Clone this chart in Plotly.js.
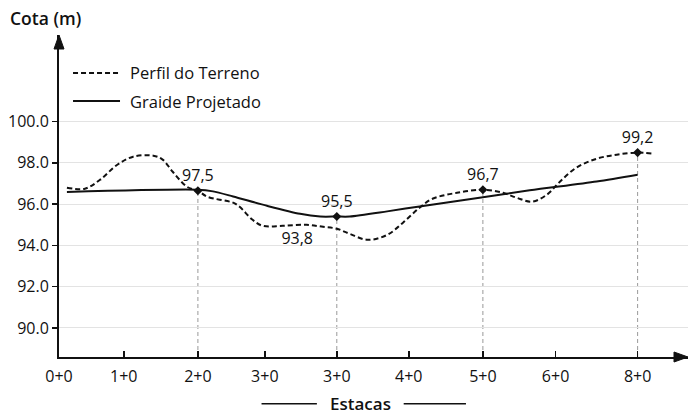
<!DOCTYPE html>
<html><head><meta charset="utf-8">
<script src="https://cdn.plot.ly/plotly-3.0.1.min.js"></script>
<style>html,body{margin:0;padding:0;background:#fff}#c{width:695px;height:417px}</style>
</head><body><div id="c"></div>
<script>
// Station tick positions and labels
const tickPos  = [0, 0.9, 1.93, 2.86, 3.86, 4.86, 5.89, 6.9, 8.04];
const tickText = ["0+0","1+0","2+0","3+0","3+0","4+0","5+0","6+0","8+0"];
const yTicks   = [90, 92, 94, 96, 98, 100];
const yTickText = ["90.0","92.0","94.0","96.0","98.0","100.0"];

// Perfil do Terreno (dashed)
const terrX = [0.11,0.36,0.57,0.81,1.03,1.31,1.44,1.58,1.78,1.93,2.06,2.42,2.51,2.69,2.83,3.11,3.44,3.67,3.86,4.04,4.29,4.56,4.78,5.01,5.19,5.53,5.89,6.17,6.36,6.57,6.78,6.96,7.19,7.47,7.75,8.04,8.24];
const terrY = [96.80,96.75,97.18,97.91,98.30,98.35,98.16,97.57,96.84,96.65,96.36,96.07,95.87,95.24,94.95,94.95,95.00,94.90,94.81,94.56,94.27,94.51,95.10,95.83,96.26,96.55,96.70,96.55,96.31,96.12,96.46,97.09,97.77,98.20,98.40,98.50,98.45];

// Graide Projetado (solid)
const gradX = [0.11,1.92,2.14,2.42,2.89,3.35,3.63,3.86,4.04,4.56,5.01,5.89,6.54,7.47,8.04];
const gradY = [96.59,96.70,96.62,96.37,95.92,95.53,95.40,95.40,95.40,95.65,95.89,96.33,96.67,97.10,97.43];

// Marked points and their labels
const markX = [1.93, 3.86, 5.89, 8.04];
const markY = [96.65, 95.40, 96.70, 98.50];
const markLabel = ["97,5","95,5","96,7","99,2"];
const extraLabelX = [3.31];
const extraLabelY = [94.27];
const extraLabel = ["93,8"];

const seriesNames = ["Perfil do Terreno", "Graide Projetado"];

const yMin = 88.59, yMax = 104.2, xMax = 8.74;
const F = "Open Sans, Noto Sans, sans-serif";
const DASH = "5px,3px";
const titleY = -0.145;

const traces = [
  {x: terrX, y: terrY, mode: "lines", name: seriesNames[0],
   line: {color: "#111", width: 2, dash: DASH, shape: "spline", smoothing: 1}},
  {x: gradX, y: gradY, mode: "lines", name: seriesNames[1],
   line: {color: "#111", width: 2, shape: "spline", smoothing: 0.8}},
  {x: markX, y: markY, mode: "markers+text", text: markLabel, textposition: "top center",
   textfont: {family: F, size: 16, color: "#111"},
   marker: {symbol: "diamond", size: 7, color: "#111"}},
  {x: extraLabelX, y: extraLabelY, mode: "text", text: extraLabel,
   textfont: {family: F, size: 16, color: "#111"}}
];

const shapes = markX.map((x, i) => ({type: "line", xref: "x", yref: "y", x0: x, x1: x, y0: yMin, y1: markY[i],
  line: {color: "#999", width: 1, dash: "4px,3px"}, layer: "below"}));
shapes.push(
  // lines beside "Estacas"
  {type: "line", xref: "paper", yref: "paper", x0: 0.322, x1: 0.41, y0: titleY, y1: titleY, line: {color: "#111", width: 1.5}},
  {type: "line", xref: "paper", yref: "paper", x0: 0.548, x1: 0.647, y0: titleY, y1: titleY, line: {color: "#111", width: 1.5}},
  // legend samples
  {type: "line", xref: "paper", yref: "paper", x0: 0.0223, x1: 0.097, y0: 0.882, y1: 0.882, line: {color: "#111", width: 2, dash: DASH}},
  {type: "line", xref: "paper", yref: "paper", x0: 0.0223, x1: 0.097, y0: 0.795, y1: 0.795, line: {color: "#111", width: 2}},
  // axis arrowheads
  {type: "path", xref: "paper", yref: "paper", xsizemode: "pixel", ysizemode: "pixel", xanchor: 0, yanchor: 1,
   path: "M0,0 L-5,-14 L5,-14 Z", fillcolor: "#111", line: {color: "#111", width: 1}},
  {type: "path", xref: "paper", yref: "paper", xsizemode: "pixel", ysizemode: "pixel", xanchor: 1, yanchor: 0,
   path: "M0,0 L-14,5 L-14,-5 Z", fillcolor: "#111", line: {color: "#111", width: 1}}
);

const layout = {
  width: 695, height: 417,
  margin: {l: 59, r: 7, t: 35, b: 60},
  paper_bgcolor: "#fff", plot_bgcolor: "#fff",
  font: {family: F, size: 16, color: "#111"},
  showlegend: false,
  xaxis: {range: [0, xMax], tickvals: tickPos, ticktext: tickText, showgrid: false, zeroline: false,
          showline: true, linecolor: "#111", linewidth: 2, ticks: "inside", ticklen: 6, tickwidth: 1.5,
          tickcolor: "#111", tickfont: {family: F, size: 16}, ticklabelstandoff: 4},
  yaxis: {range: [yMin, yMax], tickvals: yTicks, ticktext: yTickText, showgrid: true, gridcolor: "#e3e3e3",
          gridwidth: 1, zeroline: false, showline: true, linecolor: "#111", linewidth: 2,
          ticks: "outside", ticklen: 5, tickwidth: 1.5, tickcolor: "#111", tickfont: {family: F, size: 16}},
  annotations: [
    {text: "Cota (m)", xref: "paper", yref: "paper", x: -0.021, y: 1.053, showarrow: false,
     font: {family: F, size: 17.5, weight: 600}, xanchor: "center", yanchor: "middle"},
    {text: "Estacas", xref: "paper", yref: "paper", x: 0.479, y: titleY, showarrow: false,
     font: {family: F, size: 17, weight: 600}, xanchor: "center", yanchor: "middle"},
    {text: seriesNames[0], xref: "paper", yref: "paper", x: 0.1097, y: 0.882, showarrow: false,
     font: {family: F, size: 16.5}, xanchor: "left", yanchor: "middle"},
    {text: seriesNames[1], xref: "paper", yref: "paper", x: 0.1097, y: 0.795, showarrow: false,
     font: {family: F, size: 16.5}, xanchor: "left", yanchor: "middle"}
  ],
  shapes: shapes
};

Plotly.newPlot("c", traces, layout, {displayModeBar: false, staticPlot: true});
</script></body></html>
